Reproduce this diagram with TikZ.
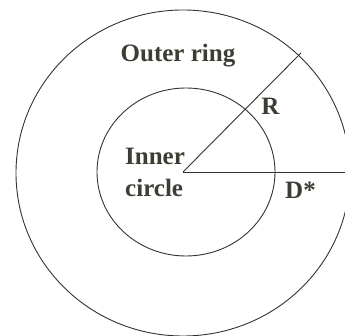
\documentclass[tikz,border=0pt]{standalone}
\usepackage{fontspec}
\setmainfont{Liberation Serif}
\definecolor{inkline}{RGB}{50,50,50}
\definecolor{inktext}{RGB}{58,62,52}

\begin{document}
\begin{tikzpicture}[x=1pt,y=1pt,
  ring/.style={draw=inkline,line width=.9pt},
  lbl/.style={inner sep=0pt,text=inktext,font=\fontsize{25}{32}\selectfont\bfseries}]
\useasboundingbox (0,0) rectangle (345,336);
\coordinate (O) at (183,164);
\coordinate (Rend) at (301,283);
\coordinate (Dend) at (345,164);
\draw[ring] (183,163) ellipse[x radius=167,y radius=163];
\draw[ring] (186,164) ellipse[x radius=89,y radius=84];
\draw[ring] (O)--(Rend);
\draw[ring] (O)--(Dend);
\node[lbl,anchor=base] (outer) at (178,274) {Outer ring};
\node[lbl,anchor=base] (rlbl) at (270.5,221) {R};
\node[lbl,anchor=base] (dlbl) at (300.5,137) {D*};
\node[lbl,anchor=base west,align=left] (inner) at (125,139) {Inner\\circle};
\end{tikzpicture}
\end{document}
